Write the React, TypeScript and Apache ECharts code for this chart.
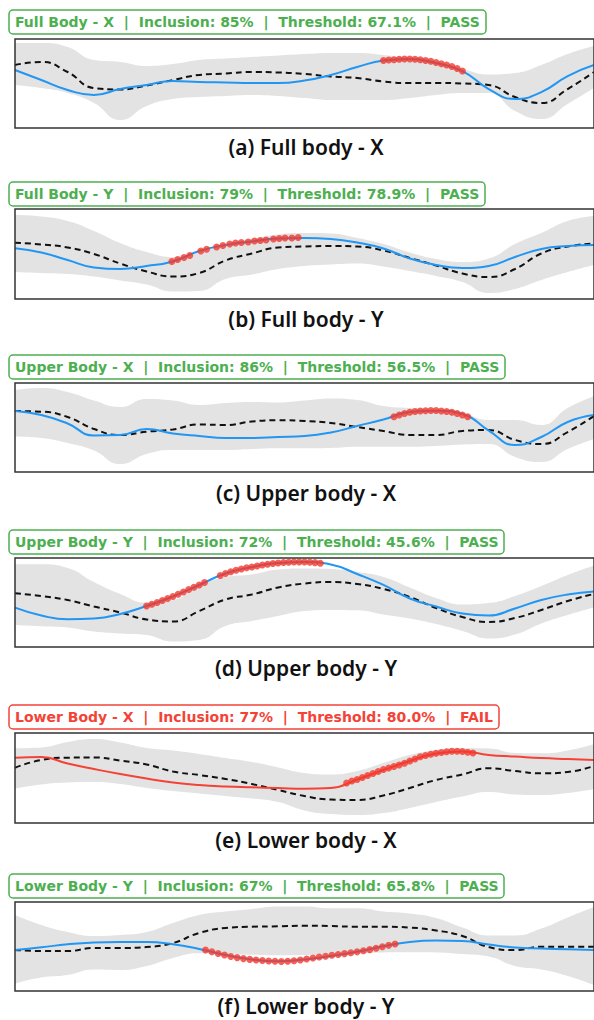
import React, { useEffect, useRef } from "react";
import * as echarts from "echarts";

// Frame index (time) of each sample, shared by all curves
const FRAMES = [0, 5, 10, 15, 20, 25, 30, 35, 40, 45, 50, 55, 60, 65, 70, 75, 80, 85, 90, 95, 100, 105, 110];

// (a) Full body - X
const aLine = [65.2, 53.9, 42.7, 37.1, 43.8, 48.3, 52.8, 51.7, 51.1, 50.6, 50.6, 53.4, 59.6, 68.5, 75.8, 77.5, 73, 64, 43.8, 32.6, 40.4, 58.4, 70.8];
const aMean = [70.8, 74.2, 62.9, 44.9, 43.3, 47.8, 53.9, 59.6, 61.2, 62.9, 62.4, 60.7, 57.9, 56.2, 52.2, 50.6, 50.6, 50, 48.3, 34.8, 28.1, 43.8, 62.9];
const aUpper = [95.5, 95.5, 91, 76.4, 74.2, 69.7, 71.9, 76.4, 78.1, 79.8, 81.5, 83.1, 84.3, 84.3, 82, 78.1, 73, 66.3, 60.1, 61.8, 70.8, 83.1, 92.1];
const aLower = [48.3, 44.9, 39.3, 28.1, 9, 24.7, 32.6, 34.8, 36, 37.1, 36, 33.7, 31.5, 31.5, 31.5, 33.7, 37.1, 39.3, 39.3, 19.1, 10.1, 27, 44.9];
const aDotFrames = [70, 71, 72, 73, 74, 75, 76, 77, 78, 79, 80, 81, 82, 83, 84, 85];
const aDots = [75.8, 76.4, 76.7, 77.2, 77.5, 77.5, 77.3, 76.6, 75.8, 75, 73.6, 72.1, 70.8, 69.1, 66.9, 64];

// (b) Full body - Y
const bLine = [56.3, 51.7, 43.3, 35, 33.3, 36.7, 41.7, 53.3, 60, 63.9, 67.2, 67.8, 66.7, 62.8, 56.1, 45, 37.8, 34.4, 36.7, 46.7, 55.6, 58.9, 60];
const bMean = [62.6, 60.6, 57.2, 50, 39.4, 30.6, 25, 28.9, 42.8, 50.6, 57.2, 58.3, 58.9, 58.3, 53.9, 45.6, 37.2, 28.3, 24.4, 33.3, 50.6, 58.3, 61.7];
const bUpper = [93.3, 91.7, 86.7, 75.6, 62.2, 52.2, 46.7, 52.2, 60.6, 66.7, 71.7, 73.3, 72.8, 67.8, 61.1, 51.7, 44.4, 41.1, 45, 61.1, 73.3, 86.7, 92.2];
const bLower = [30, 28.9, 27.8, 25, 20.6, 16.1, 8.3, 8.9, 22.2, 27.2, 33.3, 36.7, 38.3, 39.4, 36.1, 31.1, 25.6, 18.9, 6.7, 11.1, 21.1, 30, 37.8];
const bDotFrames = [29.8, 30.9, 32.1, 33.2, 35.3, 36.4, 38.3, 39.5, 40.8, 41.9, 43, 44.3, 45.5, 46.6, 47.7, 49.1, 50.2, 51.3, 52.6, 53.8];
const bDots = [41.7, 43.9, 46.1, 48.3, 53.3, 55.2, 57.8, 59.4, 61.1, 62.2, 62.8, 63.3, 64.4, 65, 65.6, 66.7, 67.2, 67.8, 67.8, 68.3];

// (c) Upper body - X
const cLine = [68.5, 64, 54.5, 41, 41.5, 48.3, 43.3, 40.4, 38.2, 38.2, 39.3, 40.4, 44.4, 51.7, 59, 67.4, 68.9, 65.2, 46.6, 30.3, 39.3, 56.2, 64];
const cMean = [68.5, 67.8, 61.8, 48.3, 41.6, 45.3, 47.8, 53.4, 52.8, 56.7, 58.1, 57.3, 55.1, 50.6, 46.1, 41.6, 41.6, 46.1, 47.2, 36, 31.5, 44.9, 62.9];
const cUpper = [92.1, 94.4, 89.9, 80.3, 73, 82, 80.3, 75.3, 77.5, 78.7, 78.1, 80.3, 82.6, 80.9, 74.2, 71.9, 69.7, 66.3, 58.4, 58.4, 52.8, 71.9, 85.4];
const cLower = [39.9, 38.2, 32.6, 24.2, 9, 20.2, 24.7, 24.7, 24.7, 25.8, 26.6, 26.6, 27, 28.4, 28.4, 28.4, 29.2, 30.9, 31.5, 16.9, 11.2, 25.8, 37.1];
const cDotFrames = [72, 73, 74, 75, 76, 77, 78, 79, 80, 81, 82, 83, 84, 85, 86];
const cDots = [62.1, 64, 65.7, 67.1, 68, 68.5, 68.9, 69.1, 69.1, 68.5, 68, 67.1, 65.7, 64, 62.1];

// (d) Upper body - Y
const dLine = [44.2, 35.4, 31.1, 32, 37.1, 46.1, 56.7, 69.7, 82.6, 89.9, 94.4, 95.5, 92.7, 82, 69.7, 54.5, 45.5, 37.6, 35.4, 43.3, 52.8, 59, 62.4];
const dMean = [60.3, 57.3, 52.8, 45.5, 38.8, 30.9, 28.7, 40.4, 53.4, 59, 66.9, 71.3, 73, 70.8, 65.2, 56.2, 43.8, 33.7, 28.1, 32.6, 41.6, 51.7, 59.6];
const dUpper = [92.9, 92.9, 88.8, 73, 59.6, 50, 52.8, 68.5, 78.7, 81.5, 87.1, 88.2, 87.6, 84.3, 78.7, 66.9, 55.1, 47.8, 49.4, 57.3, 68.5, 80.9, 91.6];
const dLower = [24.7, 23.3, 21.9, 17.4, 15.2, 13.5, 6.2, 7.9, 23.6, 29.2, 34.8, 40.4, 41.6, 41.2, 36.5, 32, 25.8, 18, 9.6, 14, 26.4, 36, 44.4];
const dDotFrames = [25, 26, 27, 28, 29, 30, 31, 32, 33, 34, 35, 36, 39, 40, 41, 42, 43, 44, 45, 46, 47, 48, 49, 50, 51, 52, 53, 54, 55, 56, 57, 58];
const dDots = [46.1, 48, 50, 52.2, 54.5, 56.7, 59.2, 61.8, 64.6, 67.2, 69.7, 72.5, 80.3, 82.6, 84.6, 86.2, 87.6, 89, 89.9, 91, 92.1, 93, 93.8, 94.4, 94.9, 95.3, 95.5, 95.5, 95.5, 95.3, 94.8, 94.2];

// (e) Lower body - X
const eLine = [72.6, 73.3, 66.1, 60, 54.4, 49.4, 45, 42.2, 40.6, 39.7, 38.9, 38.1, 38.9, 48.3, 58.9, 68.9, 77.2, 79.4, 75.6, 73.9, 72.2, 71.1, 70];
const eMean = [61.4, 70, 72.6, 72.8, 69.4, 65, 57.2, 53.3, 48.9, 43.3, 36.7, 30, 26.1, 25.6, 30.6, 38.9, 47.8, 53.9, 60.8, 57.8, 55.2, 56.7, 63.3];
const eUpper = [83, 83.9, 90, 93.3, 89.4, 83.3, 80.5, 76.7, 72.2, 67.8, 61.7, 55.6, 53.9, 57.8, 66.7, 75.6, 81.1, 83, 82.8, 77.8, 77.4, 80.5, 87.8];
const eLower = [38.3, 42.8, 45, 45.5, 43.3, 38.9, 35.6, 32.8, 30, 27.2, 23.3, 13.9, 10, 8.9, 11.1, 16.7, 23.3, 29.4, 34.4, 31.7, 31.1, 33.3, 37.8];
const eDotFrames = [63, 64, 65, 66, 67, 68, 69, 70, 71, 72, 73, 74, 75, 76, 77, 78, 79, 80, 81, 82, 83, 84, 85, 86, 87];
const eDots = [44.4, 46.7, 48.3, 50.6, 52.8, 55, 57.2, 59.4, 61.1, 62.8, 64.4, 66.3, 68.9, 71.1, 73.7, 75, 76.3, 77.4, 78.3, 79.1, 79.8, 79.8, 79.4, 78.7, 77.8];

// (f) Lower body - Y
const fLine = [46.1, 49.1, 52.5, 54.5, 55.1, 55.1, 52.5, 47.2, 40.4, 35.4, 33.4, 35.4, 39.3, 44, 50.3, 55.1, 56.7, 56.2, 52.2, 48.9, 47.8, 46.9, 46.1];
const fMean = [46.1, 44.9, 44.9, 48.3, 48.3, 49.4, 53.9, 65.2, 70.8, 72.2, 72.7, 73.3, 73, 72.2, 72.2, 71.3, 68, 61.8, 49.4, 46, 49.8, 49.8, 49.8];
const fUpper = [85.4, 74.2, 66.3, 61.8, 62.9, 66.3, 76.4, 85.4, 89.3, 92.1, 94.9, 94.9, 92.9, 92.9, 89.3, 87.1, 82, 71.3, 62.4, 62.4, 70.2, 82.6, 94.4];
const fLower = [8.4, 15.2, 18, 24.2, 23.6, 28.1, 37.1, 42.4, 41.6, 40.7, 40.1, 40.4, 41.2, 42.4, 43.3, 43.5, 43.3, 41.6, 38.8, 28.1, 24.2, 16.9, 6.7];
const fDotFrames = [36.2, 37.4, 38.6, 39.8, 41, 42.2, 43.4, 44.6, 45.8, 47, 48.2, 49.4, 50.6, 51.8, 53, 54.2, 55.4, 56.6, 57.8, 59, 60.2, 61.4, 62.6, 63.8, 65, 66.2, 67.4, 68.6, 69.8, 71, 72.2];
const fDots = [46.1, 44, 42.1, 40.4, 38.8, 37.5, 36.4, 35.5, 34.8, 34.2, 33.7, 33.4, 33.1, 33.4, 34, 34.8, 36, 37.1, 38.2, 39.1, 40.1, 41, 42, 42.9, 44, 45.2, 46.5, 48.1, 49.7, 51.3, 52.8];

const TITLES = [
  "Full Body - X  |  Inclusion: 85%  |  Threshold: 67.1%  |  PASS",
  "Full Body - Y  |  Inclusion: 79%  |  Threshold: 78.9%  |  PASS",
  "Upper Body - X  |  Inclusion: 86%  |  Threshold: 56.5%  |  PASS",
  "Upper Body - Y  |  Inclusion: 72%  |  Threshold: 45.6%  |  PASS",
  "Lower Body - X  |  Inclusion: 77%  |  Threshold: 80.0%  |  FAIL",
  "Lower Body - Y  |  Inclusion: 67%  |  Threshold: 65.8%  |  PASS",
];
const CAPTIONS = [
  "(a) Full body - X",
  "(b) Full body - Y",
  "(c) Upper body - X",
  "(d) Upper body - Y",
  "(e) Lower body - X",
  "(f) Lower body - Y",
];
const PASSED = [true, true, true, true, false, true];

const PANELS = [
  { line: aLine, mean: aMean, upper: aUpper, lower: aLower, dotFrames: aDotFrames, dots: aDots },
  { line: bLine, mean: bMean, upper: bUpper, lower: bLower, dotFrames: bDotFrames, dots: bDots },
  { line: cLine, mean: cMean, upper: cUpper, lower: cLower, dotFrames: cDotFrames, dots: cDots },
  { line: dLine, mean: dMean, upper: dUpper, lower: dLower, dotFrames: dDotFrames, dots: dDots },
  { line: eLine, mean: eMean, upper: eUpper, lower: eLower, dotFrames: eDotFrames, dots: eDots },
  { line: fLine, mean: fMean, upper: fUpper, lower: fLower, dotFrames: fDotFrames, dots: fDots },
];

const LAYOUT = [
  { top: 39, h: 89, box: 10, cap: 147 },
  { top: 209, h: 90, box: 182, cap: 319 },
  { top: 383, h: 89, box: 355, cap: 493 },
  { top: 558, h: 89, box: 530, cap: 668 },
  { top: 733, h: 90, box: 705, cap: 840 },
  { top: 902, h: 89, box: 874, cap: 1006 },
];

const GREEN = "#4caf50";
const RED = "#f44336";
const BLUE = "#2196f3";
const BAND = "#e3e3e3";

function buildOption() {
  const grid: any[] = [];
  const xAxis: any[] = [];
  const yAxis: any[] = [];
  const series: any[] = [];
  const title: any[] = [];
  const graphic: any[] = [];

  PANELS.forEach((p, i) => {
    const L = LAYOUT[i];
    grid.push({
      left: 15,
      top: L.top,
      width: 583,
      height: L.h,
      show: true,
      z: 10,
      borderColor: "#333",
      borderWidth: 1.5,
      backgroundColor: "transparent",
    });
    xAxis.push({ type: "value", gridIndex: i, min: 0, max: 110, show: false });
    yAxis.push({ type: "value", gridIndex: i, min: 0, max: 100, show: false });

    const base = { type: "line", xAxisIndex: i, yAxisIndex: i, symbol: "none", smooth: true, silent: true };
    // grey band: upper edge filled down, then lower edge filled white
    series.push({
      ...base,
      data: FRAMES.map((t, k) => [t, p.upper[k]]),
      lineStyle: { width: 0, opacity: 0 },
      areaStyle: { color: BAND, opacity: 1 },
      z: 1,
    });
    series.push({
      ...base,
      data: FRAMES.map((t, k) => [t, p.lower[k]]),
      lineStyle: { width: 0, opacity: 0 },
      areaStyle: { color: "#fff", opacity: 1 },
      z: 1,
    });
    series.push({
      ...base,
      data: FRAMES.map((t, k) => [t, p.mean[k]]),
      lineStyle: { color: "#111", width: 2, type: [6, 4] },
      z: 2,
    });
    series.push({
      ...base,
      data: FRAMES.map((t, k) => [t, p.line[k]]),
      lineStyle: { color: PASSED[i] ? BLUE : RED, width: 2 },
      z: 3,
    });
    series.push({
      type: "scatter",
      xAxisIndex: i,
      yAxisIndex: i,
      silent: true,
      symbol: "circle",
      symbolSize: 7,
      itemStyle: { color: "#f23a2e" },
      data: p.dotFrames.map((t, k) => [t, p.dots[k]]),
      z: 4,
    });

    const col = PASSED[i] ? GREEN : RED;
    title.push({
      text: TITLES[i],
      left: 9,
      top: L.box,
      padding: [4, 6, 4, 6],
      borderColor: col,
      borderWidth: 1.5,
      borderRadius: 4,
      backgroundColor: "#fff",
      textStyle: {
        color: col,
        fontSize: 14,
        fontWeight: "bold",
        fontFamily: "DejaVu Sans",
        lineHeight: 16,
      },
    });
    graphic.push({
      type: "text",
      x: 306,
      y: L.cap,
      style: {
        text: CAPTIONS[i],
        align: "center",
        verticalAlign: "middle",
        fontSize: 21,
        fontWeight: 600,
        fontFamily: "Noto Sans",
        fill: "#111",
      },
    });
  });

  return { animation: false, grid, xAxis, yAxis, series, title, graphic };
}

export default function App() {
  const ref = useRef<HTMLDivElement>(null);
  useEffect(() => {
    if (!ref.current) return;
    const chart = echarts.init(ref.current, undefined, { renderer: "svg" });
    chart.setOption(buildOption());
    return () => chart.dispose();
  }, []);
  return (
    <div
      ref={ref}
      style={{ position: "absolute", left: 0, top: 0, width: 594, height: 1020, background: "#fff" }}
    />
  );
}
